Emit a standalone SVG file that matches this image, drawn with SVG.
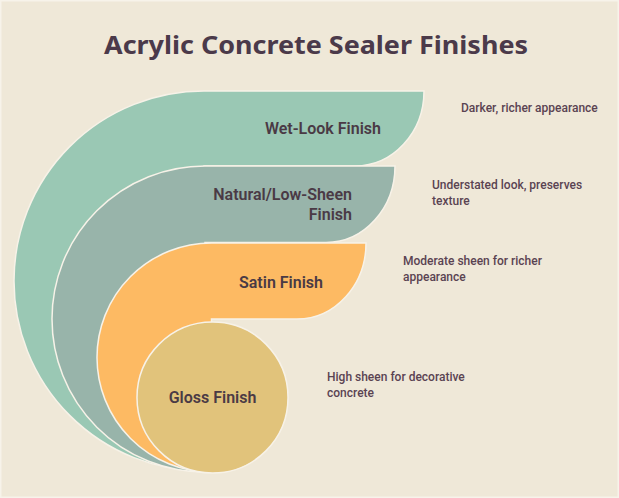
<svg xmlns="http://www.w3.org/2000/svg" width="619" height="498" viewBox="0 0 619 498">
  <style>
    .title { font-family: "Noto Sans", "DejaVu Sans", sans-serif; font-weight: 700; font-size: 25px; fill: #4b3a4a; }
    .label { font-family: Roboto, "Liberation Sans", sans-serif; font-weight: 600; font-size: 16px; fill: #4a3a45; }
    .desc { font-family: Roboto, "Liberation Sans", sans-serif; font-weight: 500; font-size: 12px; fill: #5a4352; }
    .shape { stroke: #f7f2e8; stroke-width: 1.5; }
  </style>
  <rect x="0" y="0" width="619" height="498" fill="#f7f3ea"/>
  <rect x="1.5" y="1.5" width="616" height="495" fill="#efe8d8"/>
  <text class="title" x="316" y="54" text-anchor="middle" textLength="424" lengthAdjust="spacingAndGlyphs">Acrylic Concrete Sealer Finishes</text>

  <g id="wet-look">
    <path class="shape" fill="#9ac8b4" d="M204,471 A190,190 0 0 1 14,281 A190,190 0 0 1 204,91 L424,91 A69,75 0 0 1 355,166 L204,166 Z"/>
    <text class="label" x="381" y="134" text-anchor="end">Wet-Look Finish</text>
  </g>
  <g id="natural">
    <path class="shape" fill="#98b4aa" d="M205,472 A153,153 0 0 1 52,319 A153,153 0 0 1 205,166 L395,166 A69,76.5 0 0 1 326,242.5 L205,242.5 Z"/>
    <text class="label" x="352" y="200" text-anchor="end">Natural/Low-Sheen</text>
    <text class="label" x="352" y="220" text-anchor="end">Finish</text>
  </g>
  <g id="satin">
    <path class="shape" fill="#fdba63" d="M211.5,472 A114.5,114.5 0 0 1 97,357.5 A114.5,114.5 0 0 1 211.5,243 L366,243 A69,76 0 0 1 297,319 L211.5,319 Z"/>
    <text class="label" x="323" y="288" text-anchor="end">Satin Finish</text>
  </g>
  <g id="gloss">
    <circle class="shape" fill="#e1c37b" cx="212.5" cy="397.5" r="75.5"/>
    <text class="label" x="212.5" y="403" text-anchor="middle">Gloss Finish</text>
  </g>

  <g id="descriptions">
    <text class="desc" x="461" y="112">Darker, richer appearance</text>
    <text class="desc" x="432" y="189">Understated look, preserves</text>
    <text class="desc" x="432" y="205">texture</text>
    <text class="desc" x="403" y="265">Moderate sheen for richer</text>
    <text class="desc" x="403" y="281">appearance</text>
    <text class="desc" x="327" y="381">High sheen for decorative</text>
    <text class="desc" x="327" y="397">concrete</text>
  </g>
</svg>
